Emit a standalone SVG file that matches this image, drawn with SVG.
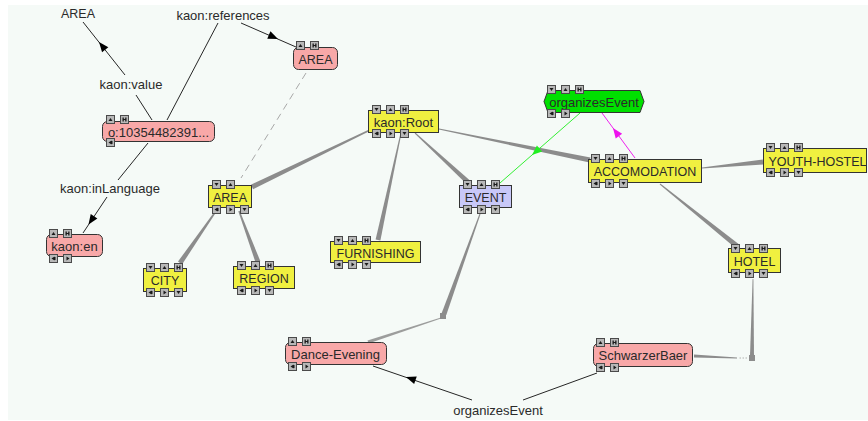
<svg xmlns="http://www.w3.org/2000/svg" xmlns:xlink="http://www.w3.org/1999/xlink" width="868" height="421" viewBox="0 0 868 421">
<style>
text{font-family:"Liberation Sans",Arial,sans-serif;font-size:13px;fill:#2a2a2a;text-anchor:middle}
.u{font-size:12.5px}
.pk{fill:#f8a8a8;stroke:#333;stroke-width:1}
.yl{fill:#f0f040;stroke:#333;stroke-width:1}
.bl{fill:#c8c8f8;stroke:#333;stroke-width:1}
.gr{fill:#00e000;stroke:#333;stroke-width:1}
.bt{fill:#b8b8b8;stroke:#4a4a4a;stroke-width:1}
.g{fill:#1a1a1a}
.w{fill:#8c8c8c}
.e{stroke:#262626;stroke-width:1;fill:none}
</style>
<defs>
<g id="bD"><rect class="bt" x="0.5" y="0.5" width="8" height="8"/><path class="g" d="M2.5,3H6.5L4.5,6Z"/></g>
<g id="bU"><rect class="bt" x="0.5" y="0.5" width="8" height="8"/><path class="g" d="M4.5,3L6.5,6H2.5Z"/></g>
<g id="bH"><rect class="bt" x="0.5" y="0.5" width="8" height="8"/><path class="g" d="M2.5,2.5h1.3v4h-1.3zM5.2,2.5h1.3v4h-1.3zM3.8,4h1.4v1h-1.4z"/></g>
<g id="bL"><rect class="bt" x="0.5" y="0.5" width="8" height="8"/><path class="g" d="M2.5,4.5L5.5,2.5V6.5ZM5.5,3h1v3h-1z"/></g>
<g id="bR"><rect class="bt" x="0.5" y="0.5" width="8" height="8"/><path class="g" d="M6.5,4.5L3.5,2.5V6.5Z"/></g>
<path id="ah" d="M0,0L-10,-4L-10,4Z"/>
</defs>
<rect x="0" y="0" width="868" height="421" fill="#ffffff"/>
<rect x="8" y="5" width="860" height="415" fill="#f5faf7"/>

<g id="connectors">
<line x1="306" y1="73" x2="241" y2="178" stroke="#a8a8a8" stroke-width="1" stroke-dasharray="7 5"/>
<polygon class="w" points="370.3,130.7 253.1,189.3 250.9,184.7 369.7,129.3"/>
<polygon class="w" points="414.7,133.4 466.3,183.8 469.7,180.2 415.3,132.6"/>
<polygon class="w" points="401.5,133.1 380.4,240.5 375.6,239.5 400.5,132.9"/>
<polygon class="w" points="438.9,129.5 589.5,162.5 590.5,157.6 439.1,128.5"/>
<polygon class="w" points="216.6,211.5 182,264.5 178,261.5 215.4,210.6"/>
<polygon class="w" points="238.3,211.3 255.7,262.9 260.3,261.1 239.7,210.7"/>
<polygon class="w" points="702,168.5 763.2,164.5 762.8,159.5 702,167.5"/>
<polygon class="w" points="659.7,184.4 735.4,247.9 738.6,244.1 660.3,183.6"/>
<polygon class="w" points="480.5,214.2 446.3,314.9 441.7,313.1 479.5,213.8"/>
<rect class="w" x="440" y="313" width="6" height="6"/>
<polygon class="w" points="441,318.4 368.5,343.4 367.5,340.6 441,317.6" opacity="0.85"/>
<polygon class="w" points="753.4,279 754,356 750,356 752.6,279"/>
<rect class="w" x="749" y="355" width="6" height="6"/>
<polygon class="w" points="737,358.4 694,357.5 694,354.5 737,357.6"/>
<line x1="747" y1="358" x2="738" y2="358" stroke="#a0a0a0" stroke-width="0.8" stroke-dasharray="1.5 1.5"/>

<line class="e" x1="152" y1="120" x2="136" y2="95"/>
<line class="e" x1="125" y1="75" x2="83" y2="22"/>
<use href="#ah" transform="translate(99,42) rotate(-128.4)"/>
<line class="e" x1="167" y1="120" x2="218" y2="23"/>
<line class="e" x1="241" y1="23" x2="296" y2="47"/>
<use href="#ah" transform="translate(278,39) rotate(23.6)"/>
<line class="e" x1="148" y1="143" x2="118" y2="180"/>
<line class="e" x1="107" y1="197" x2="83" y2="233"/>
<use href="#ah" transform="translate(88.5,224.5) rotate(123.7)"/>
<line class="e" x1="597" y1="373" x2="523" y2="400"/>
<line class="e" x1="472" y1="400" x2="373" y2="366"/>
<use href="#ah" transform="translate(406,377) rotate(-161)"/>
<line x1="580" y1="113" x2="500" y2="183" stroke="#33ee33" stroke-width="1"/>
<use href="#ah" fill="#22ee22" transform="translate(532,155) rotate(138.8)"/>
<line x1="635" y1="158" x2="602" y2="113" stroke="#ee22ee" stroke-width="1"/>
<use href="#ah" fill="#ee11ee" transform="translate(613,128) rotate(-126.3)"/>
</g>

<g id="lbl-area"><text x="78" y="18" class="u">AREA</text></g>
<g id="lbl-references"><text x="223" y="20">kaon:references</text></g>
<g id="lbl-value"><text x="131" y="89">kaon:value</text></g>
<g id="lbl-inlanguage"><text x="110" y="193">kaon:inLanguage</text></g>
<g id="lbl-organizes"><text x="498" y="415">organizesEvent</text></g>

<g id="n-area-inst">
<rect class="pk" x="293.5" y="47.5" width="44" height="22" rx="5"/>
<text x="315.5" y="63.5" class="u">AREA</text>
<use href="#bU" x="296" y="41"/><use href="#bH" x="310" y="41"/>
</g>
<g id="n-o">
<rect class="pk" x="102.5" y="121.5" width="112" height="20" rx="5"/>
<text x="158.5" y="137">o:10354482391...</text>
<use href="#bU" x="106" y="115"/><use href="#bH" x="120" y="115"/>
<use href="#bL" x="106" y="138"/>
</g>
<g id="n-kaon-en">
<rect class="pk" x="46.5" y="234.5" width="56" height="22" rx="5"/>
<text x="74.5" y="250.5">kaon:en</text>
<use href="#bU" x="49" y="229"/><use href="#bH" x="63" y="229"/>
<use href="#bL" x="49" y="254"/><use href="#bR" x="63" y="254"/>
</g>
<g id="n-area">
<rect class="yl" x="208.5" y="185.5" width="43" height="22"/>
<text x="230" y="201.5" class="u">AREA</text>
<use href="#bD" x="212" y="180"/><use href="#bU" x="226" y="180"/>
<use href="#bL" x="212" y="205"/><use href="#bR" x="226" y="205"/><use href="#bD" x="240" y="205"/>
</g>
<g id="n-city">
<rect class="yl" x="143.5" y="268.5" width="43" height="23"/>
<text x="165" y="285" class="u">CITY</text>
<use href="#bD" x="146" y="263"/><use href="#bU" x="160" y="263"/><use href="#bH" x="174" y="263"/>
<use href="#bL" x="146" y="288"/><use href="#bR" x="160" y="288"/><use href="#bD" x="174" y="288"/>
</g>
<g id="n-region">
<rect class="yl" x="233.5" y="266.5" width="61" height="22"/>
<text x="264" y="282.5" class="u">REGION</text>
<use href="#bD" x="237" y="261"/><use href="#bU" x="251" y="261"/><use href="#bH" x="265" y="261"/>
<use href="#bL" x="237" y="286"/><use href="#bR" x="251" y="286"/><use href="#bD" x="265" y="286"/>
</g>
<g id="n-root">
<rect class="yl" x="368.5" y="110.5" width="70" height="22"/>
<text x="403.5" y="127">kaon:Root</text>
<use href="#bD" x="372" y="105"/><use href="#bU" x="386" y="105"/><use href="#bH" x="400" y="105"/>
<use href="#bL" x="372" y="129"/><use href="#bR" x="386" y="129"/><use href="#bD" x="400" y="129"/>
</g>
<g id="n-furnishing">
<rect class="yl" x="330.5" y="241.5" width="90" height="21"/>
<text x="375.5" y="257.5" class="u">FURNISHING</text>
<use href="#bD" x="334" y="236"/><use href="#bU" x="348" y="236"/><use href="#bH" x="362" y="236"/>
<use href="#bL" x="334" y="260"/><use href="#bR" x="348" y="260"/><use href="#bD" x="362" y="260"/>
</g>
<g id="n-event">
<rect class="bl" x="459.5" y="185.5" width="52" height="22"/>
<text x="485.5" y="202" class="u">EVENT</text>
<use href="#bD" x="463" y="180"/><use href="#bU" x="477" y="180"/><use href="#bH" x="491" y="180"/>
<use href="#bL" x="463" y="205"/><use href="#bR" x="477" y="205"/><use href="#bD" x="491" y="205"/>
</g>
<g id="n-organizes">
<polygon class="gr" points="548,90.5 640,90.5 644,101.5 640,112.5 548,112.5 544,101.5"/>
<text x="594" y="106.5">organizesEvent</text>
<use href="#bD" x="547" y="85"/><use href="#bU" x="561" y="85"/><use href="#bH" x="575" y="85"/>
<use href="#bL" x="547" y="109"/><use href="#bR" x="561" y="109"/>
</g>
<g id="n-accomodation">
<rect class="yl" x="588.5" y="159.5" width="113" height="23"/>
<text x="645" y="176" class="u">ACCOMODATION</text>
<use href="#bD" x="591" y="154"/><use href="#bU" x="605" y="154"/><use href="#bH" x="619" y="154"/>
<use href="#bL" x="591" y="179"/><use href="#bR" x="605" y="179"/><use href="#bD" x="619" y="179"/>
</g>
<g id="n-youth-hostel">
<rect class="yl" x="763.5" y="148.5" width="103" height="24"/>
<text x="817.5" y="165.5" class="u">YOUTH-HOSTEL</text>
<use href="#bD" x="766" y="143"/><use href="#bU" x="780" y="143"/><use href="#bH" x="794" y="143"/>
<use href="#bL" x="766" y="168"/><use href="#bR" x="780" y="168"/><use href="#bD" x="794" y="168"/>
</g>
<g id="n-hotel">
<rect class="yl" x="728.5" y="248.5" width="52" height="24"/>
<text x="754.5" y="265.5" class="u">HOTEL</text>
<use href="#bD" x="731" y="244"/><use href="#bU" x="745" y="244"/><use href="#bH" x="759" y="244"/>
<use href="#bL" x="731" y="269"/><use href="#bR" x="745" y="269"/><use href="#bD" x="759" y="269"/>
</g>
<g id="n-dance-evening">
<rect class="pk" x="285.5" y="342.5" width="101" height="22" rx="5"/>
<text x="335.5" y="358.5">Dance-Evening</text>
<use href="#bU" x="288" y="337"/><use href="#bH" x="302" y="337"/>
<use href="#bL" x="288" y="362"/><use href="#bR" x="302" y="362"/>
</g>
<g id="n-schwarzerbaer">
<rect class="pk" x="593.5" y="343.5" width="99" height="23" rx="5"/>
<text x="643" y="360">SchwarzerBaer</text>
<use href="#bU" x="596" y="338"/><use href="#bH" x="610" y="338"/>
<use href="#bL" x="596" y="363"/><use href="#bR" x="610" y="363"/>
</g>
</svg>
